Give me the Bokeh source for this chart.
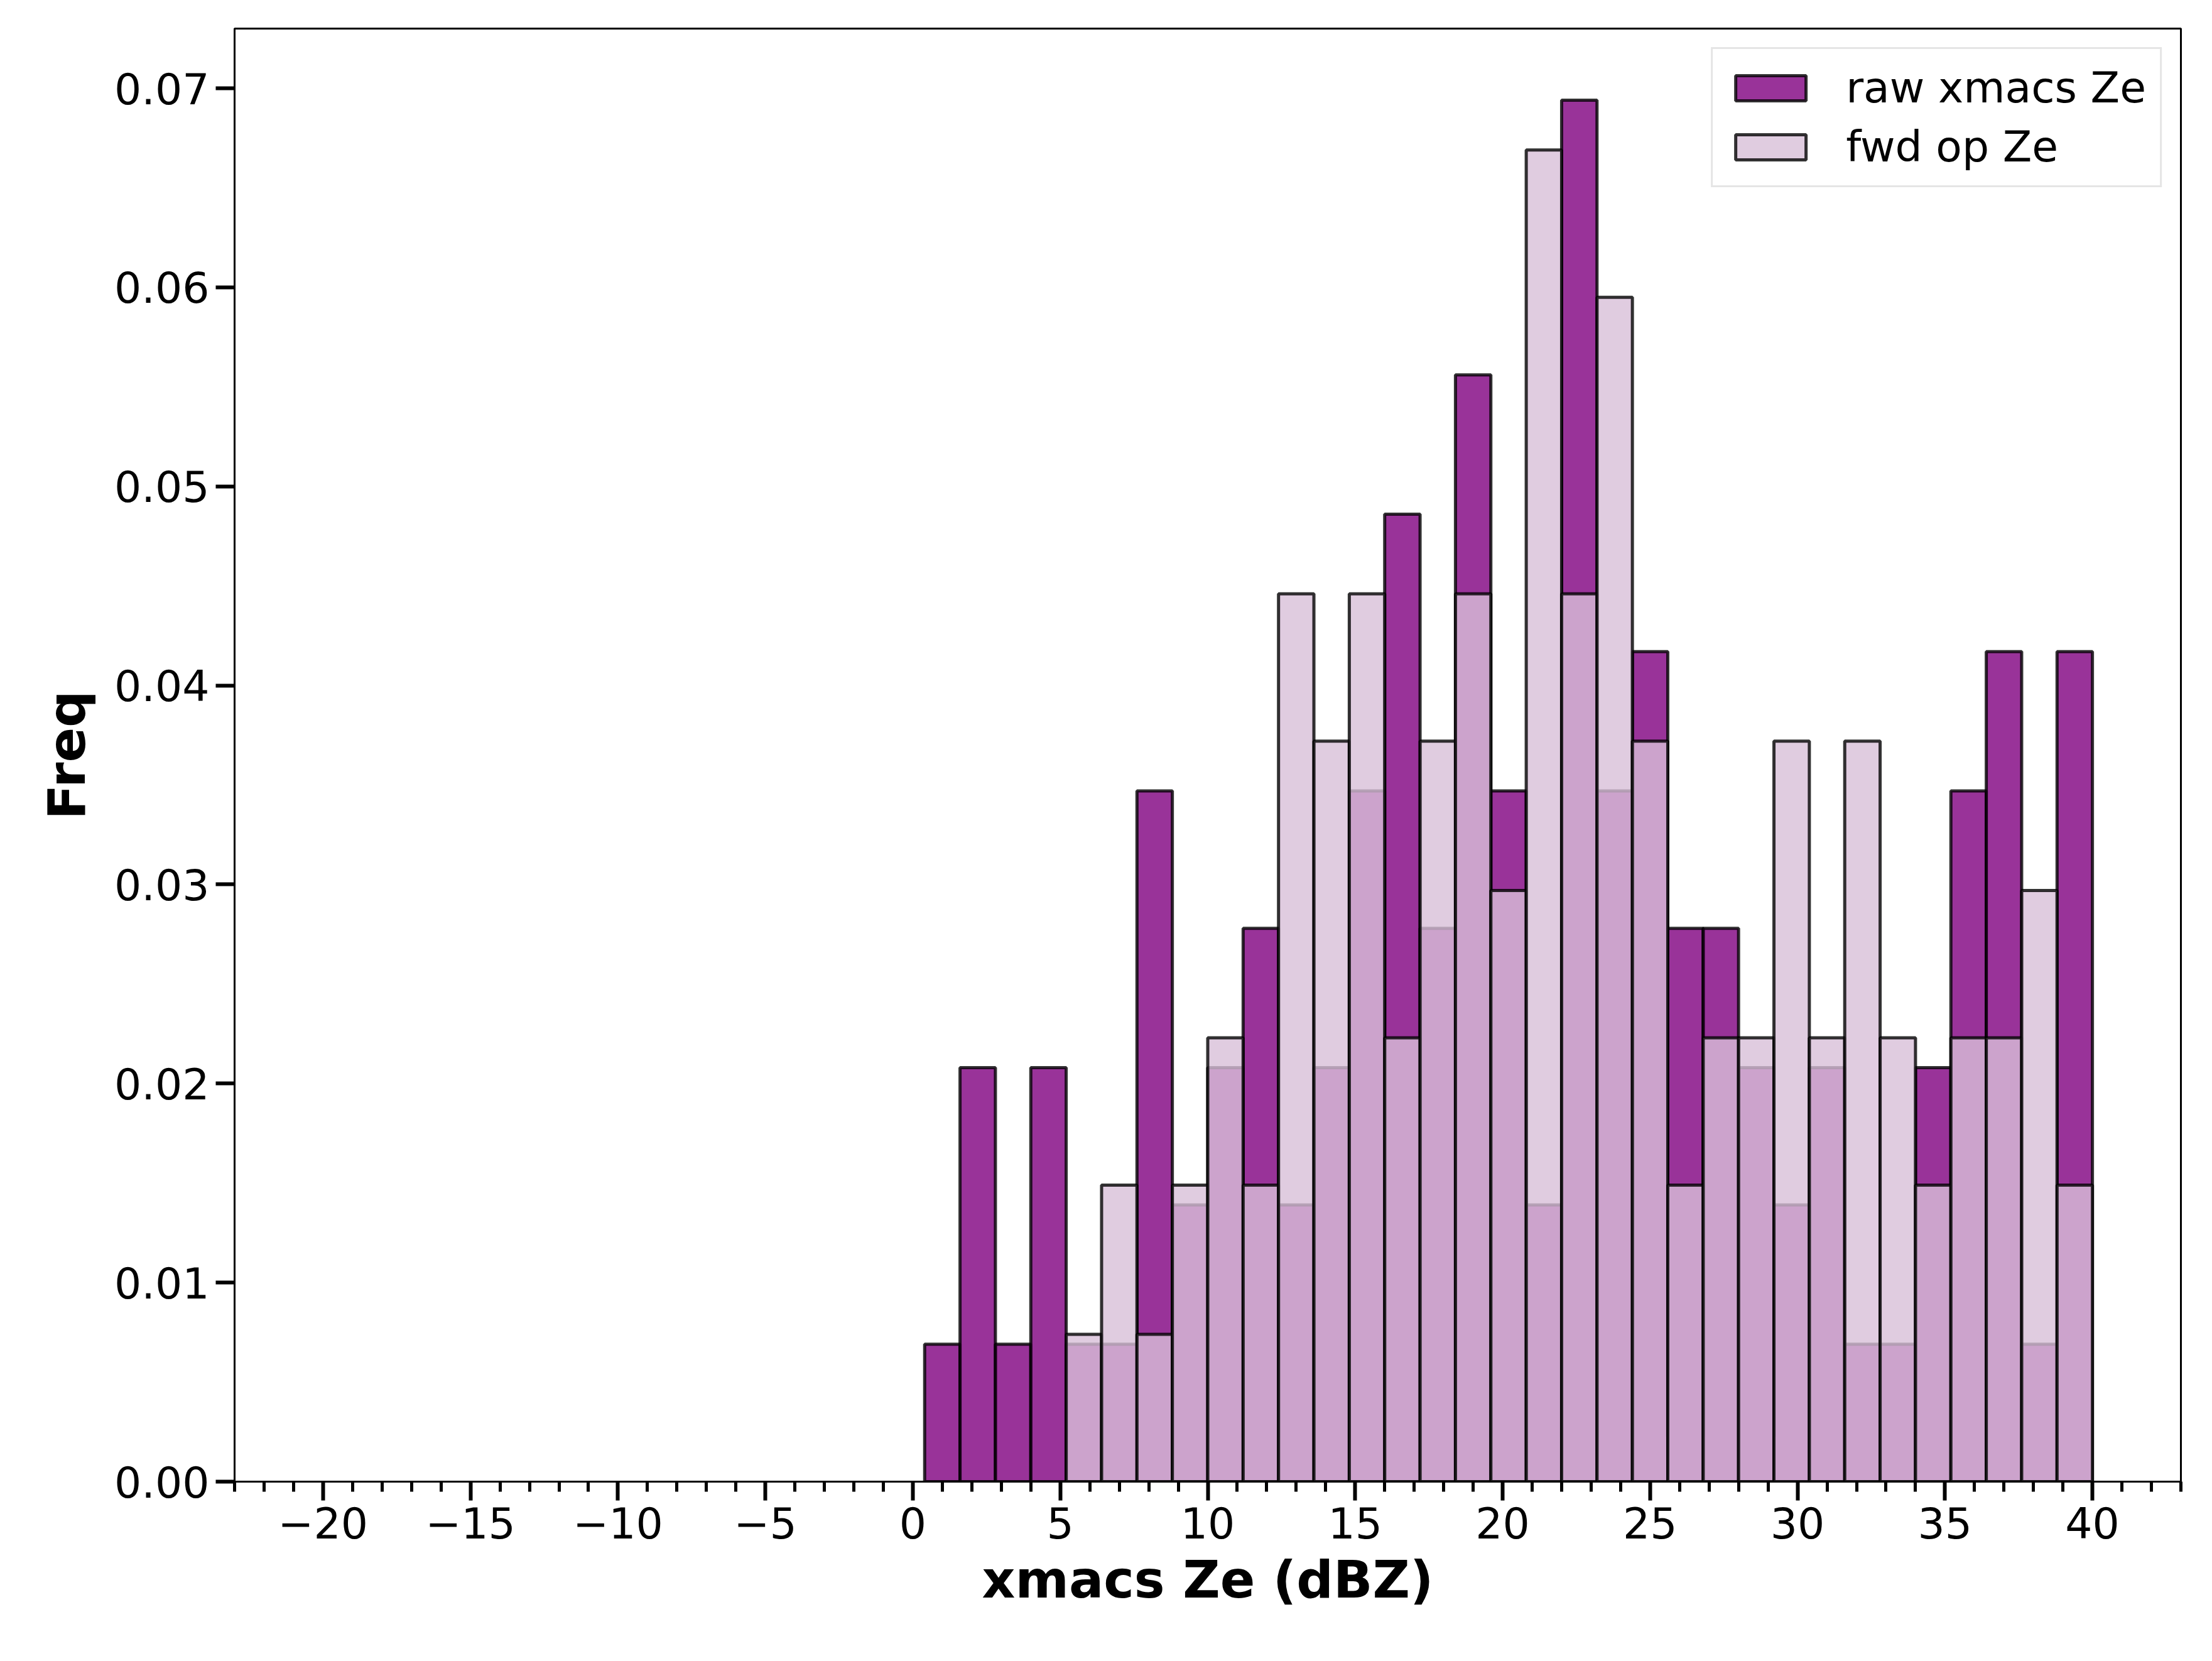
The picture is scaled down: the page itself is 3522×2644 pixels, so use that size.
from bokeh.plotting import figure
from bokeh.models import ColumnDataSource, Range1d, FixedTicker, Legend, LegendItem, NumeralTickFormatter
from bokeh.embed import file_html
from bokeh.resources import INLINE

bin_start = 0.4
bin_width = 1.2
raw_freq = [0.0069,0.0208,0.0069,0.0208,0.0069,0.0069,0.0347,0.0139,0.0208,0.0278,0.0139,0.0208,0.0347,0.0486,0.0278,0.0556,0.0347,0.0139,0.0694,0.0347,0.0417,0.0278,0.0278,0.0208,0.0139,0.0208,0.0069,0.0069,0.0208,0.0347,0.0417,0.0069,0.0417]
fwd_freq = [0,0,0,0,0.0074,0.0149,0.0074,0.0149,0.0223,0.0149,0.0446,0.0372,0.0446,0.0223,0.0372,0.0446,0.0297,0.0669,0.0446,0.0595,0.0372,0.0149,0.0223,0.0223,0.0372,0.0223,0.0372,0.0223,0.0149,0.0223,0.0223,0.0297,0.0149]
x_ticks = list(range(-20, 41, 5))

n = len(raw_freq)
lefts = [bin_start + i*bin_width for i in range(n)]
rights = [l + bin_width for l in lefts]

p = figure(frame_width=3099, frame_height=2313, min_border_left=373, min_border_top=45,
           min_border_right=40, min_border_bottom=250,
           output_backend="svg", toolbar_location=None,
           x_range=Range1d(-23.0, 43.0), y_range=Range1d(0, 0.073))
p.background_fill_color = "white"
p.grid.visible = False
p.outline_line_color = "black"
p.outline_line_width = 3

src_raw = ColumnDataSource(dict(left=lefts, right=rights, top=raw_freq))
src_fwd = ColumnDataSource(dict(left=[l for l, f in zip(lefts, fwd_freq) if f > 0],
                                right=[r for r, f in zip(rights, fwd_freq) if f > 0],
                                top=[f for f in fwd_freq if f > 0]))
r1 = p.quad(left="left", right="right", bottom=0, top="top", source=src_raw,
            fill_color="purple", fill_alpha=0.8, line_color="black", line_alpha=0.8, line_width=5)
r2 = p.quad(left="left", right="right", bottom=0, top="top", source=src_fwd,
            fill_color="thistle", fill_alpha=0.8, line_color="black", line_alpha=0.8, line_width=5)

p.xaxis.ticker = FixedTicker(ticks=x_ticks, minor_ticks=list(range(-23, 44)))
p.xaxis.major_label_overrides = {t: (("\u2212" + str(-t)) if t < 0 else str(t)) for t in x_ticks}
p.yaxis.ticker = FixedTicker(ticks=[0, 0.01, 0.02, 0.03, 0.04, 0.05, 0.06, 0.07])
p.yaxis.formatter = NumeralTickFormatter(format="0.00")
for ax in (p.xaxis, p.yaxis):
    ax.axis_line_width = 3
    ax.major_tick_line_width = 6
    ax.minor_tick_line_width = 5
    ax.major_tick_out = 30
    ax.major_tick_in = 0
    ax.minor_tick_out = 16
    ax.minor_tick_in = 0
    ax.major_label_text_font_size = "68px"
    ax.major_label_text_font = "DejaVu Sans"
    ax.major_label_text_color = "black"
    ax.axis_label_text_font_size = "82px"
    ax.axis_label_text_font = "DejaVu Sans"
    ax.axis_label_text_font_style = "bold"
    ax.axis_label_text_color = "black"
    ax.major_label_standoff = 10
p.yaxis.minor_tick_line_color = None
p.xaxis.axis_label = "xmacs Ze (dBZ)"
p.yaxis.axis_label = "Freq"
p.xaxis.axis_label_standoff = 15
p.yaxis.axis_label_standoff = 25

legend = Legend(items=[LegendItem(label="raw xmacs Ze", renderers=[r1]),
                       LegendItem(label="fwd op Ze", renderers=[r2])],
                location="top_right", label_text_font_size="68px", label_text_font="DejaVu Sans",
                label_text_color="black",
                glyph_width=140, glyph_height=50, spacing=15, padding=22, margin=30,
                border_line_color="#cccccc", border_line_width=3, label_standoff=50)
p.add_layout(legend)

open("out.html", "w").write(file_html(p, INLINE))
